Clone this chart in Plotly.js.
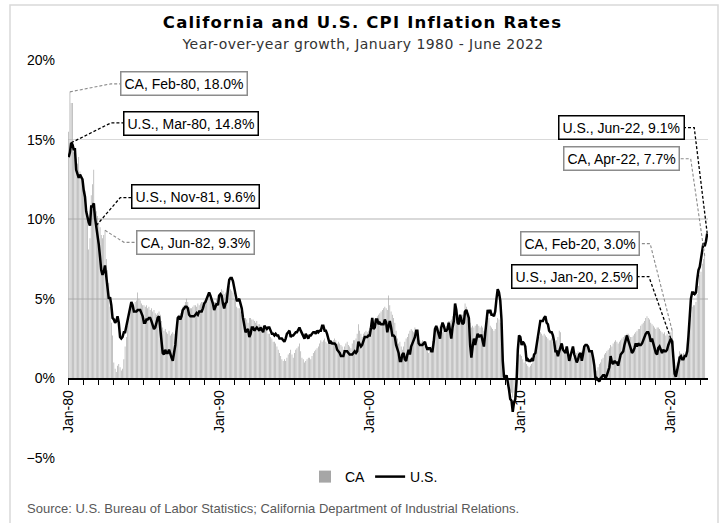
<!DOCTYPE html>
<html>
<head>
<meta charset="utf-8">
<script src="https://cdn.plot.ly/plotly-3.0.1.min.js"></script>
<style>
html,body{margin:0;padding:0;background:#fff;}
#chart{width:725px;height:523px;}
#chart .gtitle{letter-spacing:1.2px;}
#chart .subtitle-ann text{letter-spacing:0.5px;}
</style>
</head>
<body>
<div id="chart"></div>
<script>
// ---- Data (year-over-year %, monthly, Jan-1980 onward) ----
const startYear = 1980;
const startMonth = 1;

const usValues = [
 13.9,14.2,14.8,14.7,14.4,14.4,13.1,12.9,12.6,12.8,12.6,12.5,
 11.8,11.4,10.5,10.0,9.8,9.6,10.8,10.8,11.0,10.1,9.6,8.9,
 8.4,7.6,6.8,6.5,6.7,7.1,6.4,5.9,5.0,5.1,4.6,3.8,
 3.7,3.5,3.6,3.9,3.5,2.6,2.5,2.6,2.9,2.9,3.3,3.8,
 4.2,4.6,4.8,4.6,4.2,4.2,4.2,4.3,4.3,4.3,4.1,3.9,
 3.5,3.5,3.7,3.7,3.8,3.8,3.6,3.3,3.1,3.2,3.5,3.8,
 3.9,3.1,2.3,1.6,1.5,1.8,1.6,1.6,1.8,1.5,1.3,1.1,
 1.5,2.1,3.0,3.8,3.9,3.7,3.9,4.3,4.4,4.5,4.5,4.4,
 4.0,3.9,3.9,3.9,3.9,4.0,4.1,4.0,4.2,4.2,4.2,4.4,
 4.7,4.8,5.0,5.1,5.4,5.2,5.0,4.7,4.3,4.5,4.7,4.6,
 5.2,5.3,5.2,4.7,4.4,4.7,4.8,5.6,6.2,6.3,6.3,6.1,
 5.7,5.3,4.9,4.9,5.0,4.7,4.4,3.8,3.4,2.9,3.0,3.1,
 2.6,2.8,3.2,3.2,3.0,3.1,3.2,3.1,3.0,3.2,3.0,2.9,
 3.3,3.2,3.1,3.2,3.2,3.0,2.8,2.8,2.7,2.8,2.7,2.7,
 2.5,2.5,2.5,2.4,2.3,2.5,2.8,2.9,3.0,2.6,2.7,2.7,
 2.8,2.9,2.9,3.1,3.2,3.0,2.8,2.6,2.5,2.8,2.6,2.5,
 2.7,2.7,2.8,2.9,2.9,2.8,3.0,2.9,3.0,3.0,3.3,3.3,
 3.0,3.0,2.8,2.5,2.2,2.3,2.2,2.2,2.2,2.1,1.8,1.7,
 1.6,1.4,1.4,1.4,1.7,1.7,1.7,1.6,1.5,1.5,1.5,1.6,
 1.7,1.6,1.7,2.3,2.1,2.0,2.1,2.3,2.6,2.6,2.6,2.7,
 2.7,3.2,3.8,3.1,3.2,3.7,3.7,3.4,3.5,3.4,3.4,3.4,
 3.7,3.5,2.9,3.3,3.6,3.2,2.7,2.7,2.6,2.1,1.9,1.6,
 1.1,1.1,1.5,1.6,1.2,1.1,1.5,1.8,1.5,2.0,2.2,2.4,
 2.6,3.0,3.0,2.2,2.1,2.1,2.1,2.2,2.3,2.0,1.8,1.9,
 1.9,1.7,1.7,2.3,3.1,3.3,3.0,2.7,2.5,3.2,3.5,3.3,
 3.0,3.0,3.1,3.5,2.8,2.5,3.2,3.6,4.7,4.3,3.5,3.4,
 4.0,3.6,3.4,3.5,4.2,4.3,4.1,3.8,2.1,1.3,2.0,2.5,
 2.1,2.4,2.8,2.6,2.7,2.7,2.4,2.0,2.8,3.5,4.3,4.1,
 4.3,4.0,4.0,3.9,4.2,5.0,5.6,5.4,4.9,3.7,1.1,0.1,
 0.0,0.2,-0.4,-0.7,-1.3,-1.4,-2.1,-1.5,-1.3,-0.2,1.8,2.7,
 2.6,2.1,2.3,2.2,2.0,1.1,1.2,1.1,1.1,1.2,1.1,1.5,
 1.6,2.1,2.7,3.2,3.6,3.6,3.6,3.8,3.9,3.5,3.4,3.0,
 2.9,2.9,2.7,2.3,1.7,1.7,1.4,1.7,2.0,2.2,1.8,1.7,
 1.6,2.0,1.5,1.1,1.4,1.8,2.0,1.5,1.2,1.0,1.2,1.5,
 1.6,1.1,1.5,2.0,2.1,2.1,2.0,1.7,1.7,1.7,1.3,0.8,
 -0.1,0.0,-0.1,-0.2,0.0,0.1,0.2,0.2,0.0,0.2,0.5,0.7,
 1.4,1.0,0.9,1.1,1.0,1.0,0.8,1.1,1.5,1.6,1.7,2.1,
 2.5,2.7,2.4,2.2,1.9,1.6,1.7,1.9,2.2,2.0,2.2,2.1,
 2.1,2.2,2.4,2.5,2.8,2.9,2.9,2.7,2.3,2.5,2.2,1.9,
 1.6,1.5,1.9,2.0,1.8,1.6,1.8,1.7,1.7,1.8,2.1,2.3,
 2.5,2.3,1.5,0.3,0.1,0.6,1.0,1.3,1.4,1.2,1.2,1.4,
 1.4,1.7,2.6,4.2,5.0,5.4,5.4,5.3,5.4,6.2,6.8,7.0,
 7.5,7.9,8.5,8.3,8.6,9.1
];

const caValues = [
 15.5,18.0,17.3,17.3,14.2,14.0,13.8,13.5,13.9,13.0,12.8,12.5,
 12.3,11.8,10.8,10.2,8.1,8.8,11.5,12.2,13.1,11.0,10.5,10.2,
 9.8,9.5,9.0,8.8,9.0,9.3,7.5,6.8,6.0,4.5,3.5,2.7,
 1.0,0.6,0.4,0.8,0.9,0.7,0.5,0.6,1.2,2.0,2.6,3.3,
 3.8,4.2,4.5,4.7,4.6,4.8,4.9,5.4,5.0,4.9,4.7,4.6,
 4.6,4.5,4.6,4.4,4.5,4.3,4.4,4.2,4.3,4.1,4.0,4.1,
 4.2,4.0,3.6,3.2,3.0,3.1,2.9,2.8,3.0,2.7,2.8,2.9,
 2.8,3.0,3.4,3.8,4.0,4.1,4.3,4.5,4.6,4.8,5.0,4.8,
 4.5,4.4,4.4,4.5,4.6,4.6,4.5,4.7,4.6,4.7,4.8,4.8,
 4.9,5.0,5.1,5.2,5.0,5.1,4.9,4.7,4.8,4.8,5.0,5.2,
 5.3,5.4,5.6,5.5,5.3,5.4,5.2,5.5,5.8,5.6,5.5,5.4,
 5.0,4.8,4.5,4.4,4.4,4.2,4.0,3.9,3.8,3.8,3.7,3.5,
 3.8,3.8,3.7,3.7,3.6,3.5,3.6,3.4,3.4,3.3,3.3,3.2,
 3.2,3.1,3.0,2.8,2.8,2.6,2.5,2.3,2.3,2.2,2.0,1.8,
 1.6,1.4,1.2,1.1,1.2,1.1,1.3,1.5,1.6,1.8,1.5,1.3,
 1.6,1.8,1.9,2.0,2.2,1.7,1.3,1.2,1.0,1.1,1.2,1.3,
 1.3,1.2,1.4,1.6,1.7,1.8,1.9,2.0,2.2,2.4,2.3,2.4,
 2.5,2.3,2.2,2.3,2.4,2.2,2.3,2.4,2.5,2.4,2.2,2.3,
 2.2,2.1,2.0,1.8,2.0,2.2,2.3,2.1,2.0,1.9,2.2,2.4,
 2.4,2.5,2.8,3.4,3.0,2.8,2.6,2.8,2.9,3.0,2.9,3.0,
 3.2,3.5,3.8,3.6,3.7,3.8,3.9,4.0,4.1,4.2,4.3,4.4,
 4.5,4.4,4.3,5.2,4.6,4.2,4.0,3.8,3.5,3.0,2.5,2.2,
 2.3,2.0,1.8,2.0,2.3,2.5,2.6,2.8,3.0,3.1,3.0,2.9,
 3.2,3.0,2.9,2.6,2.4,2.3,2.4,2.2,2.0,1.8,1.7,1.6,
 1.8,2.0,2.3,2.6,2.9,3.1,3.0,3.2,3.3,3.2,2.9,3.0,
 3.2,3.3,3.5,3.6,3.6,3.7,3.9,4.0,4.6,4.4,3.8,3.7,
 3.7,3.8,4.0,4.2,4.7,4.5,4.3,4.1,3.5,3.2,3.3,3.2,
 3.3,3.4,3.4,3.3,3.2,3.3,3.2,3.0,3.1,3.3,3.6,3.8,
 3.3,3.2,3.1,3.0,3.1,3.5,3.8,3.7,3.5,2.5,1.0,0.2,
 -0.1,0.0,-0.3,-0.5,-0.8,-0.9,-1.2,-0.9,-0.7,0.2,1.2,1.5,
 1.5,1.4,1.2,1.0,1.1,0.9,0.8,0.7,0.8,0.9,1.0,1.2,
 1.8,2.2,2.5,2.6,2.9,2.8,2.7,2.8,2.7,2.6,2.5,2.4,
 2.4,2.5,2.3,2.2,2.1,2.4,2.6,3.0,2.9,2.2,2.0,1.8,
 1.9,1.8,1.6,1.4,1.5,1.4,1.3,1.4,1.5,1.6,1.7,1.6,
 1.6,1.7,1.8,1.9,2.0,2.0,2.1,1.9,1.8,1.6,1.4,1.2,
 0.4,0.5,0.7,0.9,1.0,1.2,1.3,1.5,1.6,1.7,1.8,1.9,
 2.1,2.0,2.2,2.3,2.4,2.3,2.2,2.3,2.4,2.5,2.6,2.7,
 2.7,2.8,2.8,2.7,2.6,2.6,2.7,2.8,2.9,3.0,3.1,3.1,
 3.3,3.4,3.5,3.6,3.8,3.9,3.8,3.7,3.5,3.4,3.3,3.2,
 3.1,3.2,3.2,3.1,3.0,2.9,2.8,2.9,2.7,2.8,2.7,2.8,
 2.9,3.0,2.4,1.2,0.6,1.0,1.4,1.7,1.6,1.5,1.6,1.5,
 1.7,2.2,2.6,3.6,4.0,4.5,4.6,4.6,4.8,5.3,5.8,6.5,
 6.7,7.2,7.5,7.7
];

// Callout labels: [series, month (YYYY-MM), label text] with box offsets in pixels
const callouts = [
  {series:'CA', month:'1980-02', text:'CA, Feb-80, 18.0%',  dx:114, dy:-8,   elbow:[41,8],    edge:52},
  {series:'US', month:'1980-03', text:'U.S., Mar-80, 14.8%', dx:120, dy:-19,  elbow:[40,20],   edge:52},
  {series:'US', month:'1981-11', text:'U.S., Nov-81, 9.6%',  dx:99,  dy:-29,  elbow:[24,28],   edge:38},
  {series:'CA', month:'1982-06', text:'CA, Jun-82, 9.3%',    dx:90,  dy:12,   elbow:[19,-12],  edge:34},
  {series:'US', month:'2022-06', text:'U.S., Jun-22, 9.1%',  dx:-86, dy:-106, elbow:[-13,106], edge:-24},
  {series:'CA', month:'2022-04', text:'CA, Apr-22, 7.7%',    dx:-83, dy:-97,  elbow:[-14,97],  edge:-26},
  {series:'CA', month:'2020-02', text:'CA, Feb-20, 3.0%',    dx:-92, dy:-87,  elbow:[-22,87],  edge:-34},
  {series:'US', month:'2020-01', text:'U.S., Jan-20, 2.5%',  dx:-96, dy:-62,  elbow:[-22,62],  edge:-34}
];

// ---- Build month axis ----
function monthStr(i){
  const y = startYear + Math.floor((startMonth - 1 + i) / 12);
  const m = ((startMonth - 1 + i) % 12) + 1;
  return y + '-' + (m < 10 ? '0' + m : m);
}
const usDates = usValues.map((v, i) => monthStr(i) + '-01');
const caDates = caValues.map((v, i) => monthStr(i) + '-01');

const FONT = 'Liberation Sans, Arial, sans-serif';
const US_COLOR = '#000000';
const CA_COLOR = '#a6a6a6';

const traces = [
  {type:'bar', name:'CA', x:caDates, y:caValues, marker:{color:CA_COLOR, line:{width:0}}, hoverinfo:'x+y'},
  {type:'scatter', mode:'lines', name:'U.S.', x:usDates, y:usValues, line:{color:US_COLOR, width:2.5}, hoverinfo:'x+y'}
];

const annotations = [];
const shapes = [];

callouts.forEach(c => {
  const dates = c.series === 'US' ? usDates : caDates;
  const vals = c.series === 'US' ? usValues : caValues;
  const idx = dates.indexOf(c.month + '-01');
  const xv = dates[idx], yv = vals[idx];
  const isUS = c.series === 'US';
  const col = isUS ? '#000000' : '#8c8c8c';
  shapes.push({
    type:'path', xref:'x', yref:'y', xsizemode:'pixel', ysizemode:'pixel',
    xanchor:xv, yanchor:yv,
    path:'M0,0L' + c.elbow[0] + ',' + c.elbow[1] + 'L' + c.edge + ',' + c.elbow[1],
    line:{color:col, width:isUS ? 1.3 : 1.1, dash:'3px,2px'}, layer:'above'
  });
  annotations.push({
    xref:'x', yref:'y', x:xv, y:yv, showarrow:false,
    xshift:c.dx, yshift:-c.dy, xanchor:'center', yanchor:'middle',
    text:c.text, font:{family:FONT, size:14, color:'#000'},
    bgcolor:'#ffffff', bordercolor:col, borderwidth:1.5, borderpad:3
  });
});

// Subtitle and source
annotations.push({
  xref:'paper', yref:'paper', x:(362.5-68)/640, y:(458-44)/398, xanchor:'center', yanchor:'middle',
  showarrow:false, text:'Year-over-year growth, January 1980 - June 2022',
  font:{family:'DejaVu Sans, sans-serif', size:14, color:'#333333'}, name:'subtitle'
});
annotations.push({
  xref:'paper', yref:'paper', x:(25-68)/640, y:(458-508)/398, xanchor:'left', yanchor:'middle',
  showarrow:false, text:'Source: U.S. Bureau of Labor Statistics; California Department of Industrial Relations.',
  font:{family:FONT, size:13, color:'#595959'}
});

// Outer frame
shapes.push({type:'rect', xref:'paper', yref:'paper', x0:(10-68)/640, x1:(718-68)/640, y0:(458-540)/398, y1:(458-5)/398,
  line:{color:'#d9d9d9', width:1.5}, fillcolor:'rgba(0,0,0,0)', layer:'below'});

const layout = {
  width:725, height:523,
  margin:{l:68, r:17, t:60, b:65},
  paper_bgcolor:'#ffffff', plot_bgcolor:'#ffffff',
  title:{text:'<b>California and U.S. CPI Inflation Rates</b>', x:0.5, xref:'container', y:1 - 22/523, yanchor:'middle', yref:'container',
    font:{family:'DejaVu Sans, sans-serif', size:16.5, color:'#000'}},
  bargap:0.42,
  showlegend:true,
  legend:{orientation:'h', x:(374-68)/640, xanchor:'center', y:(458-477)/398, yanchor:'middle',
    font:{family:FONT, size:14, color:'#000'}, traceorder:'normal'},
  xaxis:{
    type:'date', range:['1979-12-16','2022-06-20'],
    anchor:'free', position:0.2,
    tick0:'1980-01-01', dtick:'M120', tickformat:'%b-%y', tickangle:-90,
    ticks:'outside', ticklen:5, tickcolor:'#000', tickwidth:1,
    minor:{dtick:'M12', ticks:'outside', ticklen:5, tickcolor:'#000', tickwidth:1, showgrid:false},
    showline:true, linecolor:'#000', linewidth:1.2,
    showgrid:false, zeroline:false,
    tickfont:{family:FONT, size:14, color:'#000'},
    layer:'above traces'
  },
  yaxis:{
    range:[-5,20], dtick:5, tick0:0, ticksuffix:'%',
    showgrid:true, gridcolor:'#d9d9d9', gridwidth:1.5,
    zeroline:false, showline:false, ticks:'',
    ticklabelstandoff:12,
    tickfont:{family:FONT, size:14, color:'#000'}
  },
  annotations:annotations,
  shapes:shapes
};

Plotly.newPlot('chart', traces, layout, {displayModeBar:false, staticPlot:true}).then(() => {
  // widen the subtitle's letter spacing slightly to match the reference's wide typeface
  document.querySelectorAll('#chart .annotation-text').forEach(t => {
    if (t.textContent.indexOf('Year-over-year') === 0) t.style.letterSpacing = '0.45px';
  });
});
</script>
</body>
</html>
